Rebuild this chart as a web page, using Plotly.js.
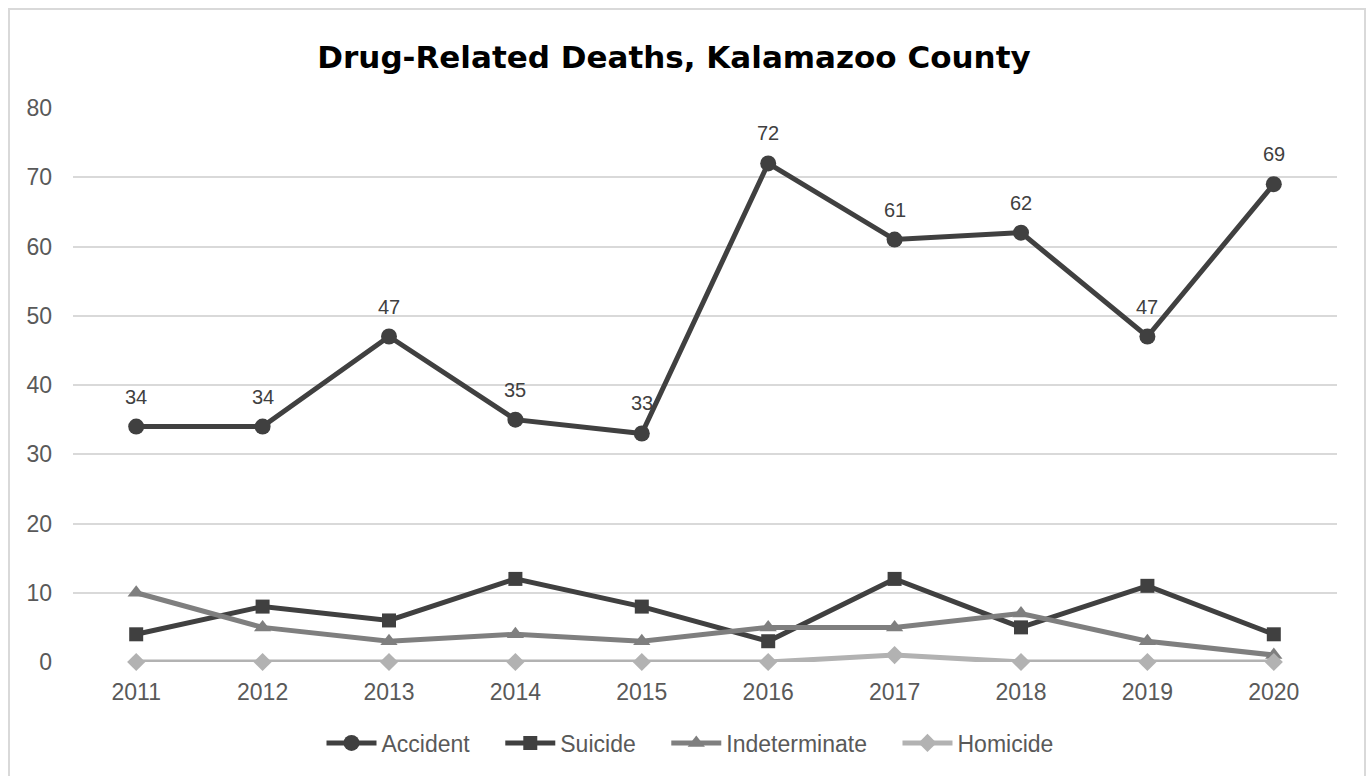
<!DOCTYPE html>
<html><head><meta charset="utf-8">
<script src="https://cdn.plot.ly/plotly-3.0.1.min.js"></script>
<style>
html,body{margin:0;padding:0;overflow:hidden;background:#fff;}
#frame{position:absolute;left:8px;top:8px;width:1358px;height:800px;border:2px solid #d9d9d9;box-sizing:border-box;pointer-events:none;z-index:5;}
#chart{position:absolute;left:0;top:0;width:1369px;height:776px;}
</style></head>
<body>
<div id="chart"></div>
<div id="frame"></div>
<script>
const years = ['2011','2012','2013','2014','2015','2016','2017','2018','2019','2020'];
const accident = [34,34,47,35,33,72,61,62,47,69];
const suicide = [4,8,6,12,8,3,12,5,11,4];
const indeterminate = [10,5,3,4,3,5,5,7,3,1];
const homicide = [0,0,0,0,0,0,1,0,0,0];
const yTicks = [0,10,20,30,40,50,60,70,80];

const FONT = 'Liberation Sans, Arial, sans-serif';
const PAD = '\u00a0\u00a0\u00a0\u00a0';
const traces = [
  {x:years,y:accident,name:'Accident'+PAD,mode:'lines+markers',
   line:{color:'#404040',width:5},marker:{symbol:'circle',size:16,color:'#404040'},cliponaxis:false},
  {x:years,y:suicide,name:'Suicide'+PAD,mode:'lines+markers',line:{color:'#404040',width:5},
   marker:{symbol:'square',size:14,color:'#404040'},cliponaxis:false},
  {x:years,y:indeterminate,name:'Indeterminate'+PAD,mode:'lines+markers',line:{color:'#7f7f7f',width:5},
   marker:{symbol:'triangle-up',size:15,color:'#7f7f7f'},cliponaxis:false},
  {x:years,y:homicide,name:'Homicide',mode:'lines+markers',line:{color:'#b2b2b2',width:5},
   marker:{symbol:'diamond',size:14,color:'#b2b2b2'},cliponaxis:false}
];

const annotations = years.map((yr,i)=>({x:i,y:accident[i],xref:'x',yref:'y',text:String(accident[i]),
  showarrow:false,yshift:30,font:{family:FONT,size:20,color:'#404040'}}));

const layout = {
  width:1369,height:776,
  margin:{l:73,r:32,t:108,b:114,autoexpand:false},
  paper_bgcolor:'#fff',plot_bgcolor:'#fff',
  title:{text:'<b>Drug-Related Deaths, Kalamazoo County</b>',x:674/1369,xanchor:'center',y:1-57/776,yanchor:'middle',
    font:{family:'DejaVu Sans, sans-serif',size:31,color:'#000'}},
  xaxis:{type:'category',range:[-0.5,9.5],showgrid:false,zeroline:false,showline:false,ticks:'',tickangle:0,
    tickfont:{family:FONT,size:23,color:'#595959'},ticklabelstandoff:14},
  yaxis:{range:[0,80],tickvals:yTicks,ticktext:yTicks.map(String),showgrid:true,gridcolor:'#d9d9d9',gridwidth:2,
    zeroline:false,showline:false,ticks:'',tickfont:{family:FONT,size:23,color:'#595959'},ticklabelstandoff:20},
  annotations:annotations,
  showlegend:true,
  legend:{orientation:'h',x:(690-73)/1264,xanchor:'center',y:-81/554,yanchor:'middle',
    font:{family:FONT,size:23,color:'#595959'},itemwidth:50,tracegroupgap:0},
};
Plotly.newPlot('chart',traces,layout,{displayModeBar:false,staticPlot:true});
</script>
</body></html>
